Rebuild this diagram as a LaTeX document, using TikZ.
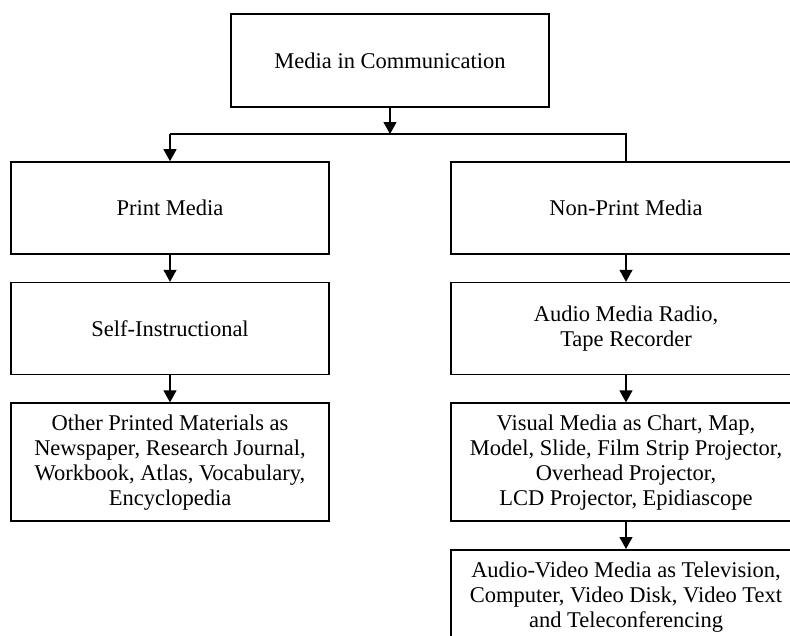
\documentclass[tikz,border=0pt]{standalone}
\usepackage{fontspec}
\setmainfont{Liberation Serif}
\usetikzlibrary{arrows.meta,positioning}

\begin{document}
\begin{tikzpicture}[
        x=1pt, y=1pt,
        node distance=27pt,
        box/.style={
                draw,
                line width=1.6pt,
                align=center,
                inner sep=0pt,
                minimum height=92pt,
                font=\fontsize{22.5}{25}\selectfont
            },
        narrowbox/.style={box, minimum width=318pt},
        widebox/.style={box, minimum width=350pt},
        link/.style={line width=1.2pt},
        arrow/.style={link, -{Triangle[length=12pt, width=13pt]}}
    ]
    \useasboundingbox (0,0) rectangle (790,-635);
    \clip (0,0) rectangle (790,-635);

    \node (1) [narrowbox, minimum height=93pt] at (390,-60.5)
    {Media in Communication};

    \node (2) [narrowbox] at (170,-208) {Print Media};
    \node (3) [widebox] at (626,-208) {Non-Print Media};

    \node (4) [narrowbox, below=of 2] {Self-Instructional};
    \node (5) [
        narrowbox,
        minimum height=118pt,
        below=of 4
    ]
    {
        Other Printed Materials as\\
        Newspaper, Research Journal,\\
        Workbook, Atlas, Vocabulary,\\
        Encyclopedia
    };

    \node (6) [widebox, below=of 3]
    {
        Audio Media Radio,\\
        Tape Recorder
    };
    \node (7) [
        widebox,
        minimum height=118pt,
        below=of 6
    ]
    {
        Visual Media as Chart, Map,\\
        Model, Slide, Film Strip Projector,\\
        Overhead Projector,\\
        LCD Projector, Epidiascope
    };
    \node (8) [
        widebox,
        minimum height=94pt,
        below=of 7
    ]
    {
        Audio-Video Media as Television,\\
        Computer, Video Disk, Video Text\\
        and Teleconferencing
    };

    \coordinate (j) at (390,-134);
    \draw[arrow] (1) -- (j);
    \draw[link] (j -| 2) -- (j -| 3) -- (3);
    \draw[arrow] (j -| 2) -- (2);
    \draw[arrow] (2) -- (4);
    \draw[arrow] (4) -- (5);
    \draw[arrow] (3) -- (6);
    \draw[arrow] (6) -- (7);
    \draw[arrow] (7) -- (8);
\end{tikzpicture}
\end{document}
